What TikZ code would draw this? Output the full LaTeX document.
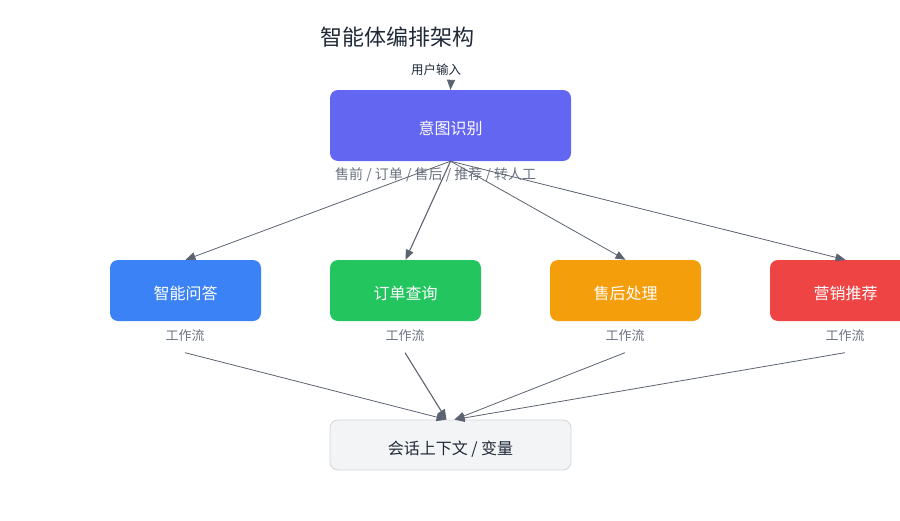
\documentclass[tikz,border=0pt]{standalone}
\usepackage{fontspec}
\setmainfont{Noto Sans CJK SC}
\usetikzlibrary{arrows.meta}
\definecolor{ctitle}{HTML}{1F2937}
\definecolor{cgray}{HTML}{6B7280}
\definecolor{cline}{HTML}{5B6270}
\definecolor{cindigo}{HTML}{6366F1}
\definecolor{cblue}{HTML}{3B82F6}
\definecolor{cgreen}{HTML}{22C55E}
\definecolor{corange}{HTML}{F59E0B}
\definecolor{cred}{HTML}{EF4444}
\definecolor{cctxfill}{HTML}{F3F4F6}
\definecolor{cctxdraw}{HTML}{D1D5DB}
\tikzset{
  box/.style={rounded corners=8pt, inner sep=0pt, text=white, font=\fontsize{16}{18}\selectfont, text height=18pt, text depth=0pt},
  agent/.style={box, minimum width=151pt, minimum height=61pt},
  lbl/.style={inner sep=0pt, text=cgray, font=\fontsize{13}{15}\selectfont},
  conn/.style={draw=cline, line width=0.8pt, -{Triangle[length=10pt,width=8pt]}},
}
\begin{document}
\begin{tikzpicture}[x=1pt,y=-1pt]
\useasboundingbox (0,0) rectangle (900,520);
\node[inner sep=0pt, text=ctitle, font=\fontsize{22}{26}\selectfont] (title) at (397,37) {智能体编排架构};
\node[inner sep=0pt, text=ctitle, font=\fontsize{12.5}{15}\selectfont] (input) at (436,69.5) {用户输入};
\coordinate (inarrow) at (451,80);
\node[box, fill=cindigo, minimum width=241pt, minimum height=71pt] (intent) at (450.5,125.5) {意图识别};
\node[lbl, anchor=west, font=\fontsize{14}{16}\selectfont] (routes) at (335,174.5) {售前 / 订单 / 售后 / 推荐 / 转人工};
\node[agent, fill=cblue] (qa) at (185.5,290.5) {智能问答};
\node[agent, fill=cgreen] (order) at (405.5,290.5) {订单查询};
\node[agent, fill=corange] (after) at (625.5,290.5) {售后处理};
\node[agent, fill=cred] (mkt) at (845.5,290.5) {营销推荐};
\node[lbl] (wf1) at (185,335.5) {工作流};
\node[lbl] (wf2) at (405,335.5) {工作流};
\node[lbl] (wf3) at (625,335.5) {工作流};
\node[lbl] (wf4) at (845,335.5) {工作流};
\node[box, fill=cctxfill, draw=cctxdraw, line width=0.8pt, text=ctitle, minimum width=241pt, minimum height=50pt] (ctx) at (450.5,445) {会话上下文 / 变量};
\draw[conn] (inarrow) -- (intent.north);
\draw[conn] (intent.south) -- (qa.north);
\draw[conn, line width=1.1pt] (intent.south) -- (order.north);
\draw[conn] (intent.south) -- (after.north);
\draw[conn] (intent.south) -- (mkt.north);
\draw[conn] ([yshift=-11pt]wf1.south) -- ([xshift=-4pt]ctx.north);
\draw[conn, line width=1.1pt] ([yshift=-11pt]wf2.south) -- ([xshift=-4pt]ctx.north);
\draw[conn] ([yshift=-11pt]wf3.south) -- ([xshift=4pt]ctx.north);
\draw[conn] ([yshift=-11pt]wf4.south) -- ([xshift=4pt]ctx.north);
\end{tikzpicture}
\end{document}
